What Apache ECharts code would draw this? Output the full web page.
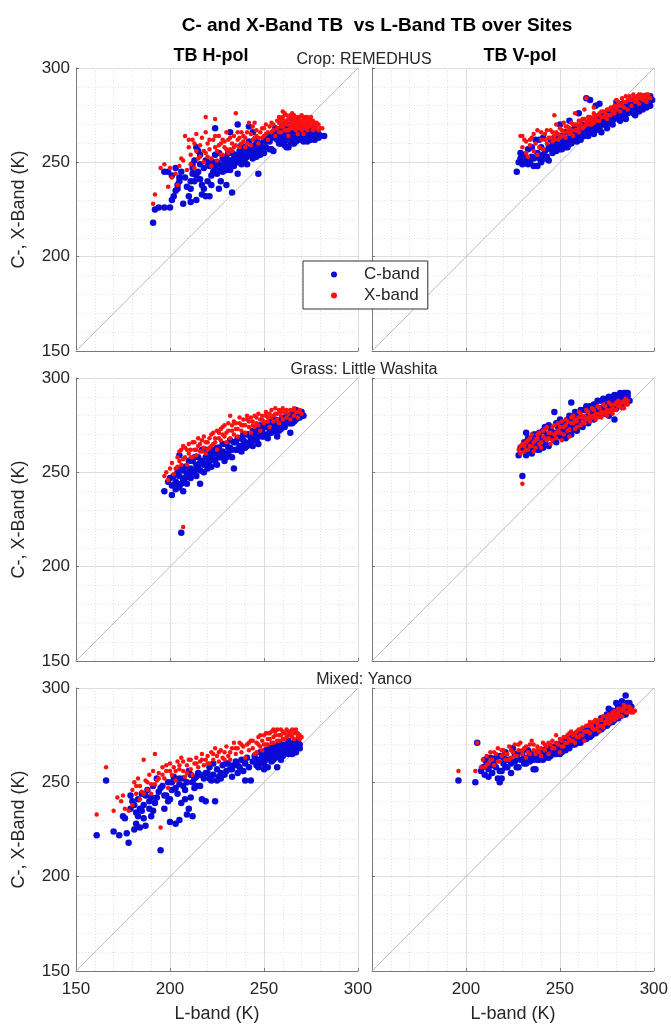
<!DOCTYPE html>
<html><head><meta charset="utf-8">
<script src="https://cdn.jsdelivr.net/npm/echarts@6/dist/echarts.min.js"></script>
<style>html,body{margin:0;padding:0;background:#fff}#c{width:671px;height:1027px}</style>
</head><body><div id="c"></div>
<script>
const axisMin = 150, axisMax = 300, axisStep = 50;
const diag = [[150,150],[300,300]];
const seriesNames = ['C-band','X-band'];
const colTitles = ['TB H-pol','TB V-pol'];
const rowTitles = ['Crop: REMEDHUS','Grass: Little Washita','Mixed: Yanco'];
const mainTitle = 'C- and X-Band TB  vs L-Band TB over Sites';
const yName = 'C-, X-Band (K)';
const xName = 'L-band (K)';

const cropH_C = [[191,218],[192,225],[194,226],[197,226],[200,226],[201,230],[202,232],[203,235],[204,236],[204,238],[205,240],[205,242],[201,243],[199,245],[197,245],[203,247],[206,245],
[208,242],[210,232],[211,229],[211,236],[211,240],[212,244],[212,247],[212,249],[213,251],[214,258],[215,256],[216,254],[215,245],[216,241],[217,238],[218,236],[219,232],[221,232],[220,240],[222,243],[223,245],[224,247],[225,250],[224,254],[224,268],[226,249],[226,236],[227,246],[228,248],[228,252],[229,250],[230,246],[230,253],[231,249],[232,251],[232,266],[233,234],[233,255],[234,252],[234,248],[235,254],[236,270],[236,250],[237,256],[237,252],[238,254],[239,251],[240,255],[240,258],[241,253],[242,257],[242,269],[243,256],[244,266],[244,258],[245,259],[246,262],[246,256],[247,244],[248,260],[249,258],[250,262],[251,258],[252,264],[253,261],[254,257],[255,256],[256,263],[255,266],
[257,262],[258,265],[259,263],[260,264],[260,267],[261,262],[262,265],[262,268],[263,263],[264,266],[264,261],[265,264],[265,268],[266,262],[266,266],[267,265],[267,263],[268,267],[268,264],[269,266],[269,262],[270,265],[270,268],[271,263],[271,267],[272,265],[272,262],[273,266],[273,269],[274,264],[274,267],[275,265],[275,262],[276,268],[276,266],[277,264],[278,266],[279,265],[280,264],[258,260],[261,259],[263,258],[266,260],[260,270],[264,270],[256,268],[282,264],
[214,243],[216,249],[218,247],[219,251],[221,248],[223,250],[225,244],[226,255],[228,245],[229,247],[231,255],[232,246],[233,249],[235,251],[236,253],[238,249],[239,257],[240,252],[241,249],[243,254],[244,252],[245,255],[247,258],[248,254],[249,256],[250,255],[251,261],[253,257],[254,263],[220,250],[222,238],[227,240],[230,238],[214,230],[217,233],[209,237],[207,228],[213,240],[238,259],[242,261],[236,244],[246,253],
[257,265],[258,267],[259,260],[260,261],[261,265],[262,262],[263,266],[263,268],[264,263],[265,266],[265,260],[266,264],[267,268],[267,261],[268,262],[268,269],[269,264],[270,263],[270,266],[271,265],[272,267],[272,264],[273,263],[274,266],[274,262],[275,267],[276,264],[277,266],[277,262],[278,264],[279,263],[271,261],[262,258],[259,268],[261,269],[265,270],[269,270],[273,261]];
const cropH_X = [[191,228],[192,233],[195,247],[197,249],[199,237],[200,247],[201,242],[203,244],[204,238],[206,252],[207,251],[209,246],[210,258],[211,254],[212,262],[213,260],[214,265],[214,256],[215,252],[216,259],[217,263],[218,250],[219,274],[219,255],[220,260],[221,257],[222,252],[223,262],[224,273],[224,258],[225,256],[226,264],[227,260],[228,254],[229,258],[230,266],[231,262],[232,257],[233,260],[234,264],[235,276],[235,259],[236,262],[237,258],[238,266],[239,261],[240,263],[241,260],[242,271],[243,265],[244,262],[245,271],[246,264],[247,260],[248,266],[249,263],[250,268],[251,265],[252,262],[253,269],[254,266],[255,270],[256,264],
[257,268],[258,271],[259,266],[260,274],[260,269],[261,272],[262,267],[262,275],[263,270],[264,273],[264,268],[265,271],[265,276],[266,269],[266,273],[267,271],[267,267],[268,274],[268,270],[269,272],[269,268],[270,275],[270,270],[271,272],[271,268],[272,274],[272,270],[273,271],[273,267],[274,273],[274,269],[275,272],[276,270],[276,267],[277,271],[278,269],[279,267],[280,268],[263,264],[268,265],[271,265],
[216,253],[218,256],[219,266],[221,262],[222,248],[224,264],[225,251],[226,259],[227,254],[228,262],[229,261],[230,257],[231,255],[232,263],[233,256],[234,258],[236,266],[237,263],[238,260],[239,264],[240,258],[241,266],[243,259],[244,269],[245,263],[246,267],[247,263],[249,268],[250,264],[251,270],[252,266],[254,271],[255,267],[210,262],[211,249],[213,247],[220,253],[208,264],[205,248],
[257,272],[258,266],[259,273],[259,269],[260,271],[261,267],[261,276],[262,270],[263,273],[263,267],[264,275],[264,270],[265,268],[265,273],[266,271],[266,275],[267,273],[267,269],[268,272],[268,268],[269,274],[269,270],[270,272],[270,267],[271,274],[271,270],[272,272],[272,268],[273,274],[273,269],[274,271],[275,274],[275,269],[276,272],[277,268],[278,271],[279,270],[281,268],[262,272],[258,274],[260,277]];

const cropV_C = [[227,245],[228,250],[229,252],[230,249],[231,254],[232,251],[233,257],[234,250],[235,253],[236,248],[237,262],[238,255],[239,252],[240,258],[241,254],[242,256],[243,253],[244,258],[245,262],[246,255],[247,263],[247,259],[248,256],[249,261],[250,257],[250,264],[251,260],[252,262],[253,258],[253,266],[254,261],[255,263],[256,260],[256,267],[257,264],[258,262],[258,269],[259,265],[260,263],[260,268],[261,266],[262,270],[262,264],[263,267],[264,284],[264,265],[265,269],[266,266],[266,272],[267,268],[268,270],[268,265],[269,280],[270,268],[270,273],[271,270],[272,272],[272,266],[273,274],[274,270],[275,273],[275,268],[276,275],[277,271],[277,274],[278,276],[278,270],[279,273],[280,282],[280,276],[281,274],[282,277],[282,272],[283,279],[284,275],[285,278],[285,273],[286,280],[287,277],[288,279],[289,276],[290,281],[290,275],[291,278],[292,282],[292,277],[293,280],[294,283],[294,278],[295,281],[296,284],[296,279],[297,282],[298,280],[298,285],[299,283],
[229,255],[231,250],[233,249],[235,258],[236,252],[238,248],[239,262],[240,250],[241,263],[242,252],[244,251],[245,257],[246,259],[247,256],[248,261],[249,258],[250,260],[251,257],[252,259],[253,262],[254,258],[255,260],[256,263],[257,261],[258,265],[259,261],[260,266],[261,262],[262,267],[263,264],[264,268],[265,264],[266,270],[267,266],[268,272],[269,267],[270,271],[271,268],[272,275],[273,270],[274,272],[275,276],[276,271],[277,277],[278,273],[279,278],[280,274],[281,279],[282,275],[283,281],[284,278],[285,281],[286,276],[287,282],[288,277],[289,283],[290,279],[291,282],[292,279],[293,283],[294,280],[295,285],[296,281],[297,285],[298,283],[271,281],[266,283],[260,276],[255,272],[250,270]];
const cropV_X = [[229,264],[230,258],[231,262],[232,255],[233,253],[234,259],[235,263],[236,256],[237,260],[238,254],[239,258],[240,262],[241,257],[242,265],[243,260],[244,263],[245,267],[246,261],[247,275],[247,264],[248,266],[249,262],[250,268],[251,264],[252,271],[252,266],[253,263],[254,269],[255,265],[256,271],[256,267],[257,264],[258,270],[259,267],[260,272],[260,268],[261,270],[262,273],[263,269],[264,284],[264,271],[265,274],[266,270],[267,272],[268,276],[268,271],[269,273],[270,275],[271,272],[272,277],[273,274],[274,276],[275,273],[276,278],[277,275],[278,279],[279,276],[280,283],[280,278],[281,280],[282,277],[283,281],[284,279],[285,282],[286,278],[287,283],[288,280],[289,284],[290,282],[291,285],[292,281],[293,286],[294,283],[295,285],[296,282],[297,286],[298,284],
[230,264],[232,261],[234,262],[236,265],[238,267],[240,266],[242,262],[243,267],[245,263],[246,266],[247,262],[248,270],[249,265],[250,263],[251,267],[252,264],[253,269],[254,266],[255,268],[256,265],[257,270],[258,267],[259,270],[260,266],[261,272],[262,268],[263,273],[264,270],[265,272],[266,274],[267,270],[268,274],[269,275],[270,272],[271,276],[272,274],[273,277],[274,274],[275,278],[276,275],[277,279],[278,277],[279,280],[280,279],[281,282],[282,280],[283,284],[284,282],[285,285],[286,283],[287,285],[288,283],[289,286],[290,284],[291,283],[292,286],[293,284],[294,285],[295,283],[296,286],[297,284],[258,276],[263,278],[268,279]];

const grassH_C = [[197,240],[200,247],[201,243],[203,245],[204,250],[205,259],[206,218],[205,248],[206,244],[207,251],[207,246],[208,253],[209,249],[210,256],[211,252],[212,250],[213,258],[214,254],[215,252],[216,244],[216,251],[217,256],[217,262],[218,254],[219,258],[220,255],[221,261],[222,253],[223,257],[224,260],[225,254],[226,263],[227,258],[228,261],[229,256],[230,265],[231,260],[232,263],[233,258],[234,252],[234,266],[235,262],[236,268],[237,264],[238,261],[239,267],[240,263],[241,270],[242,265],[243,268],[244,264],[245,271],[246,267],[247,265],[248,272],[249,269],[250,274],[251,270],[252,268],[253,273],[254,271],[255,276],[256,272],[257,269],[258,275],[259,273],[260,277],[261,274],[262,278],[263,276],[264,271],[264,279],[265,276],[266,280],[267,278],[268,281],[269,279],[270,282],[271,280],
[199,245],[201,238],[202,248],[203,241],[204,244],[205,242],[206,252],[207,240],[208,247],[209,244],[210,250],[211,247],[212,256],[213,251],[214,248],[215,258],[216,255],[218,250],[219,262],[220,252],[221,256],[222,259],[223,262],[224,256],[225,263],[226,258],[227,261],[228,265],[229,260],[230,258],[231,263],[232,267],[233,262],[235,266],[236,262],[237,268],[238,264],[239,270],[240,266],[241,264],[242,270],[243,266],[244,272],[245,268],[246,273],[247,269],[248,275],[249,272],[250,269],[251,274],[252,276],[253,271],[254,277],[255,273],[256,278],[257,274],[258,272],[259,278],[260,275],[261,279],[262,276],[263,280],[264,276],[265,281],[266,277],[267,283],[268,279],[269,281]];
const grassH_X = [[197,248],[198,250],[200,252],[201,255],[203,252],[204,258],[205,256],[207,221],[206,262],[207,257],[208,263],[209,254],[210,260],[211,258],[212,266],[213,262],[214,259],[215,264],[216,261],[217,267],[218,263],[219,260],[220,266],[221,263],[222,270],[223,265],[224,268],[225,262],[226,271],[227,267],[228,274],[229,269],[230,266],[231,272],[232,268],[233,275],[234,270],[235,273],[236,269],[237,276],[238,272],[239,275],[240,271],[241,278],[242,274],[243,271],[244,277],[245,274],[246,279],[247,275],[248,272],[249,278],[250,276],[251,280],[252,277],[253,274],[254,279],[255,277],[256,281],[257,278],[258,276],[259,280],[260,278],[261,282],[262,279],[263,281],[264,278],[265,283],[266,280],[267,282],[268,279],[269,283],[270,281],
[199,246],[202,249],[204,253],[205,261],[206,254],[207,264],[208,258],[209,262],[210,265],[211,262],[212,258],[213,266],[214,262],[215,268],[216,265],[217,261],[218,269],[219,266],[220,262],[221,268],[222,264],[223,271],[224,266],[225,272],[226,268],[227,273],[228,270],[229,275],[230,271],[231,276],[232,280],[233,272],[234,277],[235,276],[236,273],[237,279],[238,275],[239,278],[240,275],[241,280],[242,277],[243,279],[244,275],[245,280],[246,276],[247,281],[248,278],[249,280],[250,277],[251,282],[252,279],[253,281],[254,283],[255,280],[256,284],[257,281],[258,283],[259,282],[260,284],[262,283],[264,283],[266,284],[268,282]];

const grassV_C = [[228,259],[230,248],[231,262],[232,271],[233,264],[234,261],[235,267],[236,263],[237,270],[238,265],[239,262],[240,268],[241,272],[242,266],[243,270],[244,264],[245,273],[246,268],[247,282],[247,271],[248,266],[249,274],[250,269],[251,276],[252,272],[253,268],[254,278],[255,274],[256,287],[256,270],[257,279],[258,275],[259,272],[260,281],[261,277],[262,274],[263,283],[264,279],[265,276],[266,285],[267,281],[268,278],[269,286],[270,283],[271,280],[272,288],[273,284],[274,281],[275,289],[276,285],[277,282],[278,290],[279,287],[279,278],[280,284],[281,291],[282,288],[283,286],[284,292],[285,289],[285,292],[286,290],[287,288],
[229,263],[231,266],[232,259],[233,268],[234,265],[235,260],[236,270],[237,264],[238,262],[239,271],[240,266],[241,263],[242,274],[243,268],[244,275],[245,269],[246,271],[247,267],[248,276],[249,270],[250,278],[251,272],[252,276],[253,274],[254,270],[255,280],[256,276],[257,273],[258,282],[259,278],[260,275],[261,283],[262,279],[263,276],[264,285],[265,280],[266,283],[267,279],[268,286],[269,282],[270,288],[271,284],[272,282],[273,289],[274,285],[275,286],[276,290],[277,287],[278,285],[279,291],[280,288],[281,286],[282,292],[283,289],[284,290],[285,288],[286,292],[276,280]];
const grassV_X = [[228,262],[229,264],[230,244],[231,261],[232,266],[233,262],[234,268],[235,264],[236,261],[237,267],[238,270],[239,265],[240,263],[241,269],[242,273],[243,267],[244,271],[245,265],[246,274],[247,270],[248,268],[249,276],[250,271],[251,267],[252,274],[253,278],[254,272],[255,269],[256,276],[257,280],[258,273],[259,277],[260,282],[261,275],[262,279],[263,276],[264,283],[265,279],[266,277],[267,284],[268,280],[269,278],[270,285],[271,281],[272,279],[273,286],[274,282],[275,280],[276,287],[277,283],[278,281],[279,286],[280,283],[281,288],[282,285],[283,287],[284,284],[285,289],[286,286],
[229,260],[230,265],[231,264],[232,262],[233,267],[234,264],[235,270],[236,266],[237,263],[238,268],[239,271],[240,266],[241,272],[242,268],[243,274],[244,268],[245,271],[246,267],[247,275],[248,271],[249,272],[250,274],[251,277],[252,270],[253,275],[254,277],[255,273],[256,279],[257,276],[258,278],[259,274],[260,279],[261,281],[262,277],[263,280],[264,278],[265,282],[266,280],[267,279],[268,283],[269,281],[270,279],[271,284],[272,282],[273,281],[274,285],[275,283],[276,282],[277,286],[278,284],[279,283],[280,287],[281,285],[282,287],[283,284],[284,288],[285,286],[286,288]];

const yancoH_C = [[161,222],[166,251],[170,224],[173,222],[175,232],[176,231],[177,223],[178,218],[179,236],[180,240],[181,225],[182,228],[182,234],[183,241],[184,236],[185,244],[186,238],[187,227],[188,246],[189,236],[190,242],[191,248],[192,239],[193,252],[194,245],[195,214],[196,248],[197,236],[198,243],[199,250],[200,229],[200,241],[201,246],[202,253],[203,228],[204,244],[205,249],[206,239],[207,252],[208,246],[209,233],[210,256],[211,242],[212,232],[212,250],[213,247],[214,253],[215,255],[216,248],[217,241],[218,252],[219,240],[220,255],[221,258],[222,251],[223,254],[224,240],[225,257],[226,253],[227,255],[228,259],[229,254],[230,256],[231,260],[232,257],[233,253],[234,259],[235,261],[236,255],[237,258],[238,262],[239,256],[240,251],[240,260],[241,263],[242,258],[243,251],[244,261],[245,264],[246,259],[247,262],[248,266],[249,260],[250,264],[251,267],[252,263],[252,258],[253,268],[254,265],[255,262],[256,269],[257,266],[257,258],[258,271],[259,267],[260,264],[261,270],[262,266],[263,272],[264,268],[265,265],[266,271],[267,269],[268,270],[269,268],
[247,258],[248,262],[249,264],[250,260],[251,262],[252,266],[253,264],[254,261],[255,266],[256,263],[257,268],[258,264],[259,262],[260,268],[261,266],[262,269],[263,265],[264,270],[265,268],[266,267],[267,266],[268,272],[269,270],[259,270],[254,268],[250,257],[236,259],[233,257],[230,260],[227,252],[225,251],[223,260],[221,252],[219,255],[216,254],[214,248],[213,252],[211,254],[209,250],[207,248],[205,252],[203,247],[201,250],[199,240],[197,243],[195,247],[193,242],[191,235],[189,240],[187,243],[185,235],[183,232],[181,238],[179,243],[205,230],[208,241],[210,236],[184,226],[186,231],[190,232]];
const yancoH_X = [[161,233],[166,258],[170,235],[172,242],[174,240],[175,243],[176,236],[178,235],[180,246],[181,250],[182,244],[183,252],[184,248],[185,245],[186,262],[187,251],[188,246],[189,254],[190,249],[191,256],[192,265],[193,251],[194,255],[195,226],[196,258],[197,252],[198,256],[199,247],[200,260],[201,254],[202,258],[203,251],[204,261],[205,257],[206,263],[207,256],[208,253],[209,259],[210,262],[211,257],[212,254],[213,260],[214,263],[215,258],[216,261],[217,265],[218,259],[219,262],[220,264],[221,260],[222,266],[223,262],[224,268],[225,264],[226,261],[227,267],[228,263],[229,266],[230,269],[231,264],[232,262],[233,268],[234,271],[235,265],[236,268],[237,271],[238,266],[239,269],[240,263],[241,270],[242,267],[243,272],[244,268],[245,265],[246,271],[247,274],[248,269],[249,272],[250,275],[251,270],[252,273],[253,276],[254,271],[255,274],[256,277],[257,272],[258,275],[259,278],[260,273],[261,276],[262,274],[263,277],[264,275],[265,278],[266,273],[267,276],[268,274],[269,275],
[246,266],[247,270],[248,275],[249,267],[250,270],[251,276],[252,270],[253,273],[254,277],[255,271],[256,275],[257,278],[258,272],[259,275],[260,277],[261,273],[262,278],[263,275],[264,277],[265,274],[266,276],[267,278],[268,276],[269,273],[270,274],[255,278],[252,276],[244,272],[242,271],[238,270],[235,268],[232,266],[229,262],[226,266],[223,265],[220,260],[217,262],[214,260],[211,262],[209,255],[207,261],[205,259],[203,256],[200,256],[198,259],[196,254],[194,252],[192,249],[190,244],[188,250],[186,244],[184,241],[182,248],[180,238]];

const yancoV_C = [[196,251],[205,250],[206,271],[208,256],[209,258],[210,254],[211,260],[212,257],[213,263],[214,255],[215,261],[216,258],[217,252],[218,250],[218,264],[219,256],[220,260],[221,266],[222,258],[223,262],[224,255],[225,268],[226,261],[227,264],[228,258],[229,262],[230,266],[231,260],[232,263],[233,267],[234,261],[235,265],[236,257],[237,263],[238,266],[239,262],[240,264],[241,267],[242,263],[243,265],[244,268],[245,264],[246,266],[247,269],[248,265],[249,267],[250,270],[251,266],[252,268],[253,272],[254,269],[255,271],[256,274],[257,270],[258,273],[259,276],[260,271],[261,274],[262,277],[263,273],[264,276],[265,279],[266,274],[267,277],[268,280],[269,276],[270,279],[271,282],[272,278],[273,281],[274,284],[275,280],[276,283],[277,286],[278,282],[279,285],[280,288],[281,284],[282,287],[283,290],[284,286],[285,289],[285,296],[286,292],[287,288],[288,290],
[210,262],[212,253],[214,259],[216,263],[218,256],[219,252],[220,263],[221,258],[222,262],[224,260],[226,265],[227,258],[229,266],[231,263],[232,260],[234,264],[236,262],[237,257],[238,262],[240,266],[241,262],[243,268],[244,263],[246,268],[247,265],[249,270],[250,265],[251,269],[252,272],[253,267],[254,273],[255,268],[256,271],[257,275],[258,270],[259,272],[260,276],[261,271],[262,274],[263,278],[264,273],[265,276],[266,280],[267,275],[268,278],[269,282],[270,277],[271,280],[272,284],[273,279],[274,282],[275,286],[276,281],[277,284],[278,288],[279,283],[280,286],[281,290],[282,285],[283,288],[284,292],[285,286],[286,290],[287,292],[280,292],[283,293],[276,289]];
const yancoV_X = [[196,256],[205,256],[206,271],[209,262],[210,258],[211,264],[212,260],[213,266],[214,262],[215,259],[216,265],[217,268],[218,261],[219,264],[220,267],[221,262],[222,265],[223,269],[224,263],[225,266],[226,270],[227,264],[228,267],[229,271],[230,265],[231,268],[232,263],[233,266],[234,270],[235,272],[236,267],[237,265],[238,269],[239,266],[240,268],[241,271],[242,267],[243,269],[244,265],[245,270],[246,272],[247,268],[248,275],[249,270],[250,266],[251,272],[252,269],[253,274],[254,271],[255,276],[256,272],[257,275],[258,271],[259,277],[260,274],[261,278],[262,275],[263,272],[264,277],[265,280],[266,276],[267,279],[268,282],[269,278],[270,281],[271,277],[272,283],[273,279],[274,282],[275,285],[276,281],[277,284],[278,287],[279,283],[280,286],[281,289],[282,285],[283,288],[284,291],[285,287],[286,290],[287,288],[288,289],[289,287],
[208,258],[211,259],[213,262],[215,266],[217,261],[219,267],[221,265],[223,262],[224,267],[226,264],[228,270],[230,267],[232,269],[234,265],[236,270],[238,267],[240,264],[242,270],[244,271],[246,268],[248,271],[250,273],[251,269],[252,274],[253,271],[254,275],[255,273],[256,277],[257,272],[258,276],[259,274],[260,278],[261,275],[262,279],[263,277],[264,280],[265,277],[266,282],[267,280],[268,278],[269,283],[270,279],[271,283],[272,280],[273,285],[274,281],[275,283],[276,286],[277,282],[278,285],[279,288],[280,284],[281,287],[282,289],[283,285],[284,289],[285,290],[286,287],[287,290],[288,287],[290,288]];

const panels = [
  [cropH_C, cropH_X], [cropV_C, cropV_X],
  [grassH_C, grassH_X], [grassV_C, grassV_X],
  [yancoH_C, yancoH_X], [yancoV_C, yancoV_X]
];

const FONT = '"Liberation Sans", Arial, sans-serif';
const lefts = [76, 372], tops = [68, 378, 688], W = 282, H = 283;
const grids = [], xAxes = [], yAxes = [], series = [];
panels.forEach((p, i) => {
  const row = Math.floor(i / 2), col = i % 2;
  grids.push({left: lefts[col], top: tops[row], width: W, height: H, containLabel: false});
  const common = {
    type: 'value', gridIndex: i, min: axisMin, max: axisMax, interval: axisStep,
    axisLine: {show: true, onZero: false, lineStyle: {color: '#7a7a7a', width: 1}},
    axisTick: {show: true, inside: true, length: 3, lineStyle: {color: '#7a7a7a'}},
    splitLine: {show: true, lineStyle: {color: '#dedede', width: 1}},
    minorTick: {show: false, splitNumber: 5},
    minorSplitLine: {show: true, lineStyle: {color: '#e3e3e3', width: 1, type: [1, 2]}},
    nameLocation: 'middle',
    nameTextStyle: {fontSize: 18, color: '#262626', fontFamily: FONT}
  };
  xAxes.push(Object.assign({}, common, {
    axisLabel: {show: row === 2, showMinLabel: col === 0, fontSize: 17, color: '#262626', fontFamily: FONT, margin: 10},
    name: row === 2 ? xName : '', nameGap: 34
  }));
  yAxes.push(Object.assign({}, common, {
    axisLabel: {show: col === 0, fontSize: 17, color: '#262626', fontFamily: FONT, margin: 6},
    name: col === 0 ? yName : '', nameGap: 48
  }));
  series.push({type: 'line', xAxisIndex: i, yAxisIndex: i, data: diag, showSymbol: false, silent: true,
    lineStyle: {color: '#bcbcbc', width: 1}, z: 1, animation: false});
  series.push({type: 'scatter', name: seriesNames[0], xAxisIndex: i, yAxisIndex: i, data: p[0],
    symbolSize: 6.5, itemStyle: {color: '#0a0ad6', opacity: 1}, z: 2, animation: false});
  series.push({type: 'scatter', name: seriesNames[1], xAxisIndex: i, yAxisIndex: i, data: p[1],
    symbolSize: 4.5, itemStyle: {color: '#ff1010', opacity: 1}, z: 3, animation: false});
});

const graphics = [
  {type: 'text', x: 377, y: 26, style: {text: mainTitle, font: 'bold 19px ' + FONT, fill: '#000', align: 'center', verticalAlign: 'middle'}},
  {type: 'text', x: 211, y: 56, style: {text: colTitles[0], font: 'bold 18px ' + FONT, fill: '#000', align: 'center', verticalAlign: 'middle'}},
  {type: 'text', x: 520, y: 56, style: {text: colTitles[1], font: 'bold 18px ' + FONT, fill: '#000', align: 'center', verticalAlign: 'middle'}}
];
rowTitles.forEach((t, r) => {
  graphics.push({type: 'text', x: 364, y: tops[r] - 8, style: {text: t, font: '16px ' + FONT, fill: '#262626', align: 'center', verticalAlign: 'middle'}});
});

const chart = echarts.init(document.getElementById('c'), null, {renderer: 'canvas'});
chart.setOption({
  animation: false,
  backgroundColor: '#fff',
  grid: grids, xAxis: xAxes, yAxis: yAxes, series: series,
  graphic: graphics,
  legend: {
    data: seriesNames, orient: 'vertical', left: 303, top: 261,
    backgroundColor: '#fff', borderColor: '#333', borderWidth: 1, borderRadius: 0,
    padding: [5, 8, 5, 28], itemGap: 4, itemWidth: 6, itemHeight: 6, selectedMode: false,
    textStyle: {fontSize: 17, color: '#262626', fontFamily: FONT, padding: [0, 0, 0, 22]}
  }
});
</script></body></html>
